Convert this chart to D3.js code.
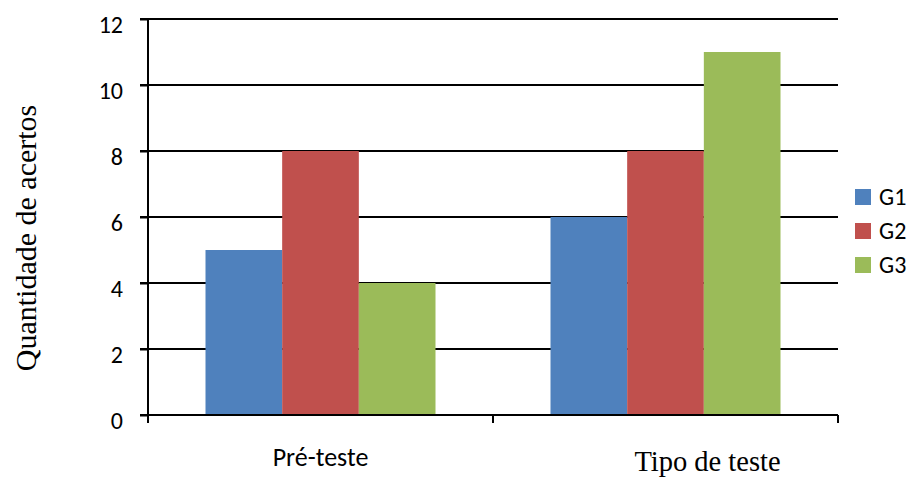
<!DOCTYPE html>
<html><head><meta charset="utf-8">
<script src="https://cdn.jsdelivr.net/npm/d3@7"></script>
<style>body{margin:0;background:#fff}</style>
</head><body>
<svg id="c" width="909" height="477"></svg>
<script>
const categories = ["Pré-teste", "Tipo de teste"];
const seriesNames = ["G1", "G2", "G3"];
const G1 = [5, 6];
const G2 = [8, 8];
const G3 = [4, 11];
const yTicks = [0, 2, 4, 6, 8, 10, 12];
const colors = ["#4F81BD", "#C0504D", "#9BBB59"];
const series = [G1, G2, G3];

const svg = d3.select("#c");
const L = 148, R = 838, T = 19, B = 415;
const sans = "Carlito, 'Open Sans', sans-serif";
const x = d3.scaleBand().domain(categories).range([L, R]).paddingInner(0).paddingOuter(0);
const y = d3.scaleLinear().domain([0, 12]).range([B, T]);
const inner = d3.scaleBand().domain(seriesNames).range([0, x.bandwidth()]).paddingInner(0).paddingOuter(0.75);

// gridlines
svg.append("g").selectAll("line").data(yTicks.filter(d => d > 0)).join("line")
  .attr("x1", L - 8).attr("x2", R).attr("y1", d => y(d)).attr("y2", d => y(d))
  .attr("stroke", "#000").attr("stroke-width", 2);

// bars
categories.forEach((c, ci) => {
  series.forEach((s, si) => {
    svg.append("rect")
      .attr("x", x(c) + inner(seriesNames[si]))
      .attr("width", inner.bandwidth())
      .attr("y", y(s[ci]))
      .attr("height", y(0) - y(s[ci]))
      .attr("fill", colors[si]);
  });
});

// y axis
const yAxis = d3.axisLeft(y).tickValues(yTicks).tickSize(8).tickPadding(17).tickFormat(d3.format("d"));
const ya = svg.append("g").attr("transform", `translate(${L},0)`).call(yAxis);
ya.select(".domain").remove();
ya.attr("font-family", sans).attr("font-size", 24);
ya.selectAll(".tick line").attr("stroke", "#000").attr("stroke-width", 2);
ya.selectAll(".tick text").attr("fill", "#000").attr("dy", "0.55em");
svg.append("line").attr("x1", L).attr("x2", L).attr("y1", T).attr("y2", B + 8).attr("stroke", "#000").attr("stroke-width", 2);

// x axis
svg.append("line").attr("x1", L - 8).attr("x2", R).attr("y1", B).attr("y2", B).attr("stroke", "#000").attr("stroke-width", 2);
const xTickPos = [L, x(categories[1]), R];
svg.append("g").selectAll("line").data(xTickPos).join("line")
  .attr("x1", d => d).attr("x2", d => d).attr("y1", B).attr("y2", B + 8)
  .attr("stroke", "#000").attr("stroke-width", 2);

svg.append("text").attr("x", x(categories[0]) + x.bandwidth() / 2 - 0).attr("y", 466)
  .attr("text-anchor", "middle").attr("font-family", sans).attr("font-size", 26)
  .text(categories[0]);
svg.append("text").attr("x", x(categories[1]) + x.bandwidth() / 2 + 42).attr("y", 471)
  .attr("text-anchor", "middle").attr("font-family", "'Liberation Serif', 'DejaVu Serif', serif").attr("font-size", 28.5)
  .text(categories[1]);

// y title
svg.append("text").attr("transform", "translate(36,238) rotate(-90)")
  .attr("text-anchor", "middle").attr("font-family", "'Liberation Serif', serif").attr("font-size", 30)
  .text("Quantidade de acertos");

// legend
const ly = [197, 231, 265];
seriesNames.forEach((n, i) => {
  svg.append("rect").attr("x", 855).attr("y", ly[i] - 8).attr("width", 16).attr("height", 16).attr("fill", colors[i]);
  svg.append("text").attr("x", 879).attr("y", ly[i] + 8).attr("font-family", sans)
    .attr("font-size", 24).text(n);
});
</script>
</body></html>
